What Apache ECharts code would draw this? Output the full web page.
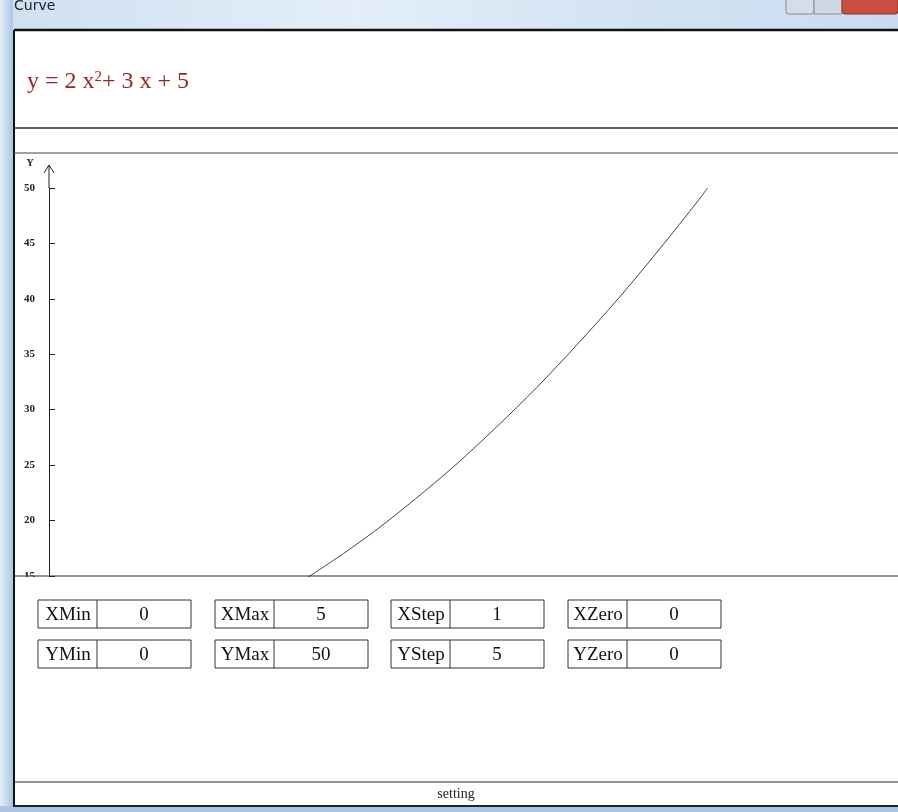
<!DOCTYPE html>
<html>
<head>
<meta charset="utf-8">
<title>Curve</title>
<script src="https://cdn.jsdelivr.net/npm/echarts@6/dist/echarts.min.js"></script>
<style>
  html, body { margin: 0; padding: 0; background: #fff; }
  #chart { width: 898px; height: 812px; }
</style>
</head>
<body>
<div id="chart"></div>
<script>
// points
const curveX = [1.5, 1.75, 2, 2.25, 2.5, 2.75, 3, 3.25, 3.5, 3.75, 4, 4.05]
const curveY = [14, 16.4, 19, 21.9, 25, 28.4, 32, 35.9, 40, 44.4, 49, 50]

// setting boxes
const xNames = ['XMin', 'XMax', 'XStep', 'XZero']
const xValues = ['0', '5', '1', '0']
const yNames = ['YMin', 'YMax', 'YStep', 'YZero']
const yValues = ['0', '50', '5', '0']

const serif = '"Liberation Serif", "Times New Roman", serif'
const dark = '#2a2a2a'

const chart = echarts.init(document.getElementById('chart'))

function hline(y, x1, x2, w, color) {
  return { type: 'line', z: 100, shape: { x1: x1, y1: y, x2: x2, y2: y }, style: { stroke: color || dark, lineWidth: w || 1 } }
}

function settingBox(left, top, name, value) {
  return [
    { type: 'rect', z: 101, shape: { x: left, y: top, width: 153, height: 28 }, style: { fill: '#fff', stroke: '#333', lineWidth: 1 } },
    { type: 'line', z: 101, shape: { x1: left + 59, y1: top, x2: left + 59, y2: top + 28 }, style: { stroke: '#333', lineWidth: 1 } },
    { type: 'text', z: 102, x: left + 30, y: top + 15, style: { text: name, font: '19px ' + serif, fill: '#111', align: 'center', verticalAlign: 'middle' } },
    { type: 'text', z: 102, x: left + 106, y: top + 15, style: { text: value, font: '19px ' + serif, fill: '#111', align: 'center', verticalAlign: 'middle' } }
  ]
}

const boxLefts = [38, 215, 391, 568]
let boxes = []
xNames.forEach((n, i) => { boxes = boxes.concat(settingBox(boxLefts[i], 600, n, xValues[i])) })
yNames.forEach((n, i) => { boxes = boxes.concat(settingBox(boxLefts[i], 640, n, yValues[i])) })

const graphics = [
  // title bar
  { type: 'rect', z: 90, shape: { x: 0, y: 0, width: 898, height: 30 },
    style: { fill: new echarts.graphic.LinearGradient(0, 0, 1, 0, [
      { offset: 0, color: '#cfe0f1' }, { offset: 0.4, color: '#e3eef9' }, { offset: 0.7, color: '#d3e3f3' }, { offset: 1, color: '#c9dcef' }]) } },
  { type: 'text', z: 91, x: 14, y: 6, style: { text: 'Curve', font: '14px "DejaVu Sans", sans-serif', fill: '#222', verticalAlign: 'middle' } },
  { type: 'rect', z: 91, shape: { x: 786, y: -4, width: 28, height: 18, r: 3 }, style: { fill: '#d6dde6', stroke: '#7f8c9b' } },
  { type: 'rect', z: 91, shape: { x: 814, y: -4, width: 28, height: 18, r: 0 }, style: { fill: '#cfd8e2', stroke: '#7f8c9b' } },
  { type: 'rect', z: 91, shape: { x: 842, y: -4, width: 56, height: 18, r: 3 }, style: { fill: '#c9503f', stroke: '#8a3327' } },
  // left window border
  { type: 'rect', z: 90, shape: { x: 0, y: 0, width: 13, height: 812 },
    style: { fill: new echarts.graphic.LinearGradient(0, 0, 1, 0, [
      { offset: 0, color: '#e4eef8' }, { offset: 1, color: '#a9c7e4' }]) } },
  { type: 'rect', z: 90, shape: { x: 0, y: 806, width: 898, height: 6 }, style: { fill: '#a9c4de' } },
  // white area below the plot
  { type: 'rect', z: 99, shape: { x: 15, y: 577, width: 883, height: 229 }, style: { fill: '#fff' } },
  // frame lines
  { type: 'line', z: 100, shape: { x1: 14, y1: 30, x2: 14, y2: 807 }, style: { stroke: '#111', lineWidth: 2 } },
  hline(30, 14, 898, 2.5, '#111'),
  hline(128, 14, 898, 1.5),
  hline(153, 14, 898, 1.2, '#444'),
  hline(576, 14, 898, 1.2),
  hline(782, 14, 898, 1.2),
  hline(806, 14, 898, 2, '#1a2535'),
  // formula
  { type: 'text', z: 100, x: 27, y: 82,
    style: { text: '{a|y = 2 x}{s|2}{a|+ 3 x + 5}', verticalAlign: 'middle',
      rich: { a: { font: '24px ' + serif, fill: '#9e2424' }, s: { font: '15px ' + serif, fill: '#9e2424', verticalAlign: 'top', padding: [0, 0, 10, 0] } } } },
  // axis extension and arrow
  { type: 'line', z: 100, shape: { x1: 49, y1: 165, x2: 49, y2: 188 }, style: { stroke: '#222', lineWidth: 1 } },
  { type: 'polyline', z: 100, shape: { points: [[44, 173], [49, 165], [54, 173]] }, style: { stroke: '#222', lineWidth: 1, fill: null } },
  { type: 'text', z: 100, x: 30, y: 163, style: { text: 'Y', font: 'bold 10px ' + serif, fill: '#222', align: 'center', verticalAlign: 'middle' } },
  // footer
  { type: 'text', z: 100, x: 456, y: 794, style: { text: 'setting', font: '14px ' + serif, fill: '#222', align: 'center', verticalAlign: 'middle' } }
].concat(boxes)

chart.setOption({
  animation: false,
  grid: { left: 49, top: 188, width: 813, height: 554, containLabel: false },
  xAxis: { type: 'value', min: 0, max: 5, show: false },
  yAxis: {
    type: 'value', min: 0, max: 50, interval: 5,
    splitLine: { show: false },
    axisLine: { show: true, lineStyle: { color: '#222', width: 1 } },
    axisTick: { show: true, inside: true, length: 6, lineStyle: { color: '#222' } },
    axisLabel: { margin: 14, fontFamily: serif, fontWeight: 'bold', fontSize: 11, color: '#222' }
  },
  series: [{
    type: 'line',
    data: curveX.map((x, i) => [x, curveY[i]]),
    smooth: 0.3,
    showSymbol: false,
    lineStyle: { color: '#444', width: 1 }
  }],
  graphic: graphics
})
</script>
</body>
</html>
